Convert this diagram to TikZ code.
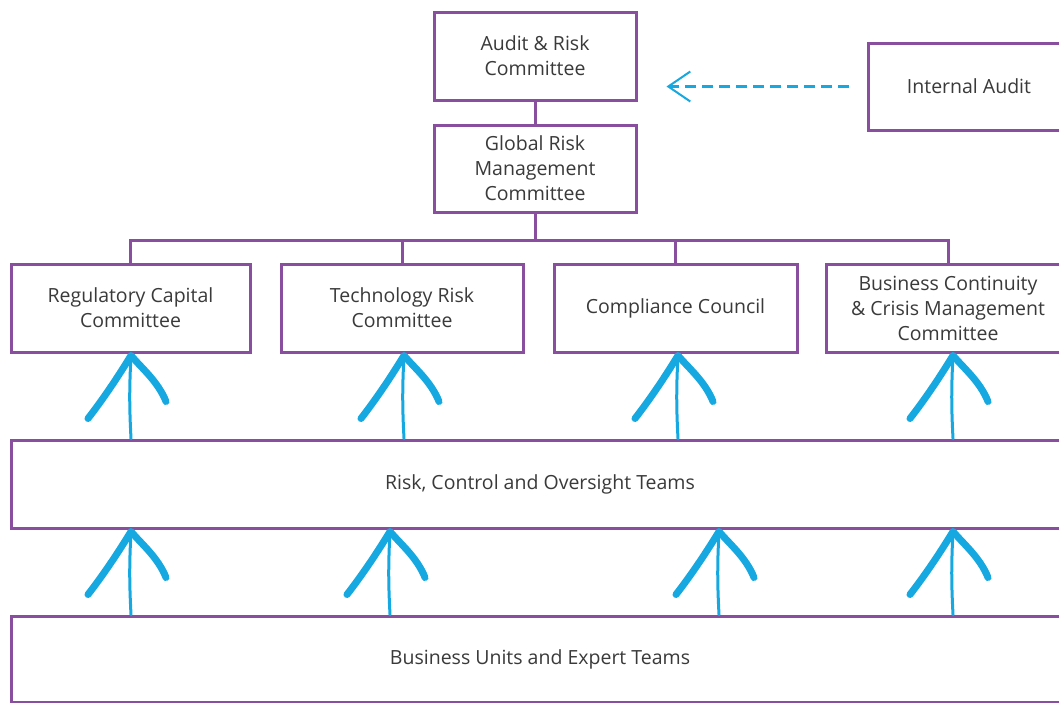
\documentclass[tikz,border=0pt]{standalone}
\usepackage{fontspec}
\setmainfont{Open Sans}
\usetikzlibrary{arrows.meta,calc}
\definecolor{frame}{RGB}{137,78,158}
\definecolor{flow}{RGB}{22,168,224}
\definecolor{ink}{RGB}{58,58,58}
\tikzset{
  box/.style={draw=frame, line width=3pt, fill=white, rectangle, inner sep=0pt,
    align=center, text=ink, font=\fontsize{19.5}{25}\selectfont},
  conn/.style={draw=frame, line width=3pt},
  shaft/.style={draw=flow, line width=3pt, line cap=round},
  wing/.style={draw=flow, line width=7pt, line cap=round, line join=round},
  dashlink/.style={draw=flow, line width=2.2pt, dash pattern=on 11pt off 6pt,
    -{Straight Barb[length=22pt,width=30pt,line width=2pt]}},
  handhead/.pic={\draw[wing] (-43,63) .. controls (-29,45) and (-14,23) .. (0,0)
     .. controls (11,13) and (27,26) .. (35,46);}
}
\begin{document}
\begin{tikzpicture}[x=1pt,y=-1pt]
\useasboundingbox (0,0) rectangle (1059,702);
\clip (0,0) rectangle (1059,702);
\fill[white] (0,0) rectangle (1059,702);
% top
\node[box, minimum width=202pt, minimum height=88pt] (arc) at (535,56) {Audit \& Risk\\Committee};
\node[box, minimum width=202pt, minimum height=87pt] (grm) at (535,168.5) {Global Risk\\Management\\Committee};
\node[box, minimum width=202pt, minimum height=87pt] (ia) at (969,86.5) {Internal Audit};
% committees
\node[box, minimum width=239pt, minimum height=88pt] (reg) at (130.5,308) {Regulatory Capital\\Committee};
\node[box, minimum width=242pt, minimum height=88pt] (tech) at (402,308) {Technology Risk\\Committee};
\node[box, minimum width=243pt, minimum height=88pt] (comp) at (675.5,308) {Compliance Council};
\node[box, minimum width=244pt, minimum height=88pt] (bcc) at (948,308) {Business Continuity\\\& Crisis Management\\Committee};
% bands
\node[box, minimum width=1058pt, minimum height=88pt] (rco) at (540,484) {Risk, Control and Oversight Teams};
\node[box, minimum width=1058pt, minimum height=86pt] (bu) at (540,659) {Business Units and Expert Teams};
% tree connectors
\coordinate (bus) at (0,240);
\draw[conn] (arc.south) -- (grm.north);
\draw[conn] (grm.south) -- (grm.south |- bus);
\draw[conn] (reg.north) -- (reg.north |- bus) -- (bcc.north |- bus) -- (bcc.north);
\draw[conn] (tech.north) -- (tech.north |- bus);
\draw[conn] (comp.north) -- (comp.north |- bus);
% dashed arrow
\draw[dashlink, shorten <=18pt, shorten >=29pt] (ia.west) -- (ia.west -| arc.east);
% upward arrows, band to committees
\coordinate (u1) at (131,0);
\coordinate (u2) at (404,0);
\coordinate (u3) at (678,0);
\coordinate (u4) at (953,0);
\foreach \c in {u1,u2,u3,u4}{
  \draw[shaft] (rco.north -| \c) to[bend left=3] ($(reg.south -| \c)+(0,2)$);
  \pic at ($(reg.south -| \c)+(0,2)$) {handhead};
}
% upward arrows, business units to band
\coordinate (l1) at (131,0);
\coordinate (l2) at (390,0);
\coordinate (l3) at (719,0);
\coordinate (l4) at (953,0);
\foreach \c in {l1,l2,l3,l4}{
  \draw[shaft] (bu.north -| \c) to[bend left=3] ($(rco.south -| \c)+(0,2)$);
  \pic at ($(rco.south -| \c)+(0,2)$) {handhead};
}
\end{tikzpicture}
\end{document}
